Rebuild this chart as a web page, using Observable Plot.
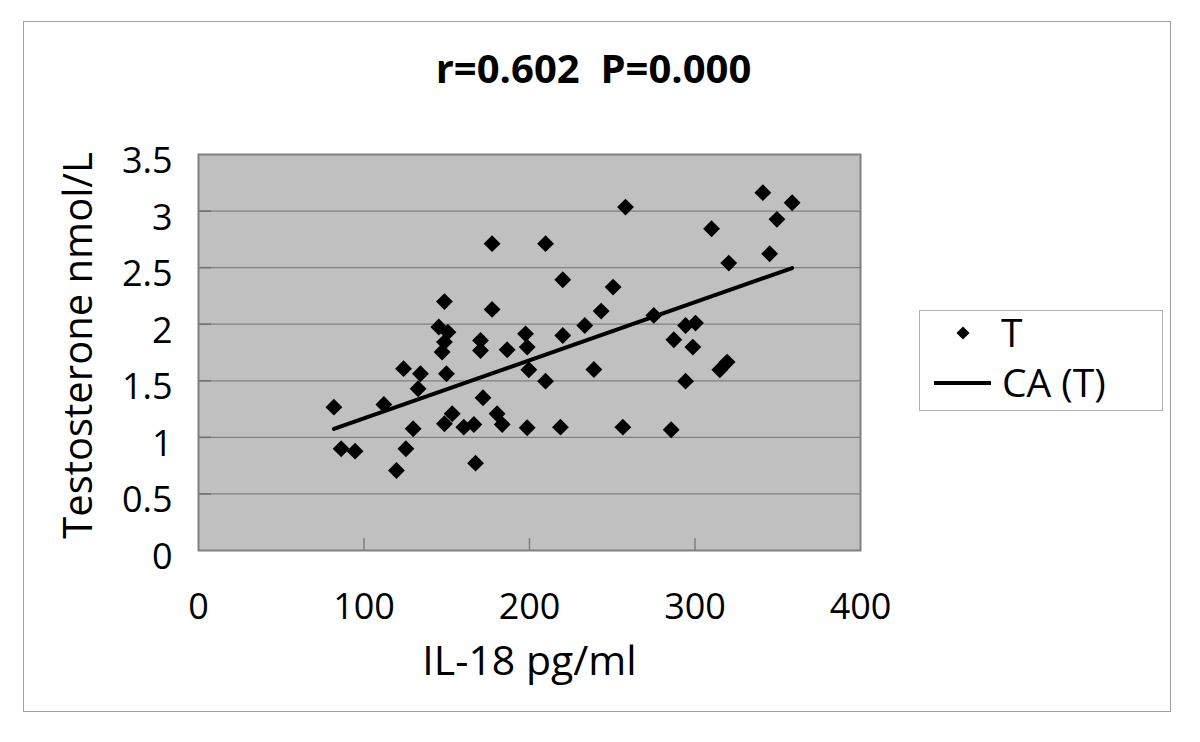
<!DOCTYPE html>
<html><head><meta charset="utf-8">
<script src="https://cdn.jsdelivr.net/npm/d3@7"></script>
<script src="https://cdn.jsdelivr.net/npm/@observablehq/plot@0.6"></script>
<style>body{margin:0;background:#fff;} svg{display:block;}</style>
</head><body><div id="chart"></div>
<script>
const il18 = [81.8, 86.2, 94.6, 112, 119.6, 123.9, 125.3, 129.7, 132.7, 134.1,
  145.2, 147.2, 148.6, 148.6, 149.8, 148.6, 150.7, 153.3, 160.3, 166.4,
  167.4, 170.4, 170.4, 171.9, 177.4, 177.4, 180.4, 183.5, 186.5, 197.6,
  198.6, 199.6, 198.6, 209.7, 209.7, 218.7, 220.1, 220.1, 233.4, 238.9,
  243.3, 250.5, 256.4, 258, 275.1, 285.6, 287.2, 294.3, 294.3, 300.3,
  298.7, 310, 315, 319.4, 320.4, 341, 345.1, 349.5, 358.7];
const testosterone = [1.267, 0.899, 0.878, 1.29, 0.707, 1.607, 0.899, 1.076, 1.43, 1.562,
  1.975, 1.754, 1.842, 2.20, 1.562, 1.12, 1.93, 1.209, 1.09, 1.114,
  0.772, 1.857, 1.768, 1.35, 2.712, 2.131, 1.209, 1.114, 1.774, 1.915,
  1.798, 1.598, 1.085, 2.712, 1.497, 1.09, 2.393, 1.90, 1.989, 1.60,
  2.116, 2.328, 1.09, 3.035, 2.078, 1.067, 1.863, 1.989, 1.497, 2.01,
  1.798, 2.844, 1.598, 1.665, 2.54, 3.163, 2.623, 2.927, 3.074];
const trendX = [81.8, 358.7];
const trendY = [1.075, 2.496];
const xTicks = [0, 100, 200, 300, 400];
const yTicks = [0, 0.5, 1, 1.5, 2, 2.5, 3, 3.5];
const titleText = "r=0.602  P=0.000";
const seriesNames = ["T", "CA (T)"];
const xLabel = "IL-18 pg/ml";
const yLabel = "Testosterone nmol/L";

const points = il18.map((x, i) => ({x, y: testosterone[i]}));
const trend = trendX.map((x, i) => ({x, y: trendY[i]}));
const font = "'Open Sans', 'Noto Sans', sans-serif";

const chart = Plot.plot({
  width: 1200, height: 742,
  marginLeft: 198, marginRight: 340, marginTop: 154, marginBottom: 192,
  style: {fontFamily: font, background: "#fff", color: "#000", overflow: "visible"},
  x: {domain: [0, 400]},
  y: {domain: [0, 3.5]},
  marks: [
    Plot.frame({fill: "#c0c0c0", stroke: null}),
    Plot.ruleY(yTicks.slice(1, -1), {stroke: "#808080", strokeWidth: 1.3}),
    Plot.tickX(xTicks.slice(1, -1), {x: d => d, insetTop: 384, stroke: "#808080", strokeWidth: 1.5}),
    Plot.tickY(yTicks.slice(1, -1), {y: d => d, insetRight: 649, stroke: "#707070", strokeWidth: 1.5}),
    Plot.axisX({ticks: xTicks, tickSize: 0, tickPadding: 43, fontSize: 36, label: null, tickFormat: d => String(d)}),
    Plot.axisY({ticks: yTicks, tickSize: 0, tickPadding: 26, fontSize: 36, label: null, tickFormat: d => String(d), dy: 7}),
    Plot.line(trend, {x: "x", y: "y", stroke: "#000", strokeWidth: 4}),
    Plot.dot(points, {x: "x", y: "y", symbol: "diamond2", r: 7.6, fill: "#000", stroke: null}),
    Plot.frame({stroke: "#808080", strokeWidth: 2}),
    Plot.text([xLabel], {frameAnchor: "bottom", lineAnchor: "top", dy: 95, fontSize: 41}),
    Plot.text([yLabel], {frameAnchor: "left", textAnchor: "middle", lineAnchor: "top", rotate: -90, dx: -135, dy: -7, fontSize: 40}),
    Plot.text([titleText], {frameAnchor: "top", lineAnchor: "top", dy: -100, dx: 64, fontSize: 40, fontWeight: "bold"})
  ]
});
document.getElementById("chart").append(chart);

const svg = d3.select(chart);
// outer chart border
svg.insert("rect", ":first-child")
  .attr("x", 23.5).attr("y", 21.5).attr("width", 1147).attr("height", 690)
  .attr("fill", "#fff").attr("stroke", "#a0a0a0").attr("stroke-width", 1);
// legend
const lg = svg.append("g").attr("text-anchor", "start");
lg.append("rect").attr("x", 919.5).attr("y", 310.5).attr("width", 243).attr("height", 100)
  .attr("fill", "#fff").attr("stroke", "#b0b0b0").attr("stroke-width", 1);
lg.append("path").attr("transform", "translate(963,333)")
  .attr("d", d3.symbol(d3.symbolDiamond2, 110)()).attr("fill", "#000");
lg.append("text").attr("x", 1001).attr("y", 347).attr("font-size", 39).attr("font-family", font)
  .attr("text-anchor", "start").text(seriesNames[0]);
lg.append("line").attr("x1", 934).attr("x2", 991).attr("y1", 383).attr("y2", 383)
  .attr("stroke", "#000").attr("stroke-width", 4);
lg.append("text").attr("x", 1002).attr("y", 397).attr("font-size", 39).attr("font-family", font)
  .attr("text-anchor", "start").text(seriesNames[1]);
</script>
</body></html>
